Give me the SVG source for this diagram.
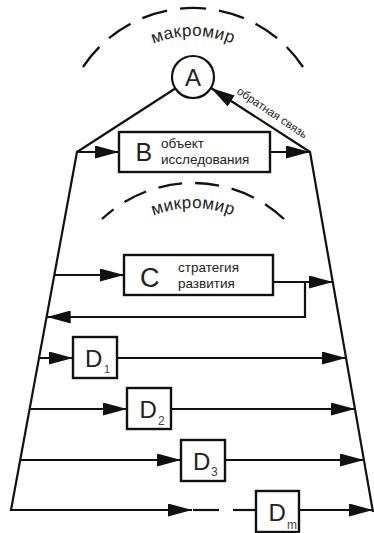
<svg xmlns="http://www.w3.org/2000/svg" width="374" height="533" viewBox="0 0 374 533">
<style>
.ln{fill:none;stroke:#111;stroke-width:2.2}
.bx{fill:#fff;stroke:#111;stroke-width:2.4}
.arc{fill:none;stroke:#111;stroke-width:2.3}
.t{font-family:"Liberation Sans",Arial,sans-serif;fill:#222}
.big{font-size:25px}
.sm{font-size:13.5px}
.sub{font-size:12px;fill:#444}
</style>
<defs>
<marker id="ah" markerUnits="userSpaceOnUse" markerWidth="24" markerHeight="13" refX="24" refY="6.5" orient="auto">
<path d="M0,0 L24,6.5 L0,13 Z" fill="#111"/>
</marker>
<path id="macroPath" d="M102.9,88 A104,104 0 0 1 283.1,88"/>
<path id="microPath" d="M110.3,246.6 A108,108 0 0 1 275.7,246.6"/>
</defs>
<rect width="374" height="533" fill="#fff"/>
<g id="macromir">
<path class="arc" d="M83,67 A132,132 0 0 1 303,67" stroke-dasharray="26 13"/>
<text class="t" style="font-size:17px;letter-spacing:0.4px"><textPath href="#macroPath" startOffset="50%" text-anchor="middle">макромир</textPath></text>
</g>
<g id="mikromir">
<path class="arc" d="M284,219 A133,133 0 0 0 102,219" stroke-dasharray="24 13"/>
<text class="t" style="font-size:17px;letter-spacing:0.4px"><textPath href="#microPath" startOffset="50%" text-anchor="middle">микромир</textPath></text>
</g>
<g id="connectors">
<path class="ln" d="M176,88 L77,152 L11,510 L192,510" marker-end="url(#ah)"/>
<path class="ln" d="M373,512 L310,152 L211,88" marker-end="url(#ah)"/>
<line class="ln" x1="77" y1="152" x2="119" y2="152" marker-end="url(#ah)"/>
<line class="ln" x1="270" y1="152" x2="310" y2="152" marker-end="url(#ah)"/>
<line class="ln" x1="54.4" y1="275" x2="124" y2="275" marker-end="url(#ah)"/>
<line class="ln" x1="273" y1="282" x2="333" y2="282" marker-end="url(#ah)"/>
<polyline class="ln" points="305,282 305,317 46.7,317" marker-end="url(#ah)"/>
<line class="ln" x1="39" y1="358" x2="73" y2="358" marker-end="url(#ah)"/>
<line class="ln" x1="117" y1="358" x2="346" y2="358" marker-end="url(#ah)"/>
<line class="ln" x1="29.8" y1="409" x2="127" y2="409" marker-end="url(#ah)"/>
<line class="ln" x1="171" y1="409" x2="355" y2="409" marker-end="url(#ah)"/>
<line class="ln" x1="20.4" y1="460" x2="181" y2="460" marker-end="url(#ah)"/>
<line class="ln" x1="225" y1="460" x2="364" y2="460" marker-end="url(#ah)"/>
<line class="ln" x1="193" y1="510" x2="219" y2="510"/>
<line class="ln" x1="233" y1="510" x2="256" y2="510"/>
<line class="ln" x1="299" y1="510" x2="373" y2="510" marker-end="url(#ah)"/>
<text class="t" style="font-size:11.5px" transform="translate(236,93) rotate(34)">обратная связь</text>
</g>
<g id="A">
<circle cx="193" cy="77" r="21" fill="#fff" stroke="#111" stroke-width="2.2"/>
<text class="t" x="193" y="85.5" text-anchor="middle" style="font-size:24px">A</text>
</g>
<g id="B">
<rect class="bx" x="119" y="132" width="151" height="40"/>
<text class="t big" x="135.5" y="161">B</text>
<text class="t sm" x="161" y="148">объект</text>
<text class="t sm" x="161" y="164">исследования</text>
</g>
<g id="C">
<rect class="bx" x="124" y="255" width="149" height="40"/>
<text class="t" x="140" y="286.5" style="font-size:27px">C</text>
<text class="t sm" x="178" y="272">стратегия</text>
<text class="t sm" x="178" y="287.5">развития</text>
</g>
<g id="D1">
<rect class="bx" x="73" y="337" width="44" height="41"/>
<text class="t" x="85" y="367" style="font-size:24px">D</text>
<text class="t sub" x="104" y="373" style="font-size:11px">1</text>
</g>
<g id="D2">
<rect class="bx" x="127" y="388" width="44" height="41"/>
<text class="t" x="139.5" y="418" style="font-size:24px">D</text>
<text class="t sub" x="158" y="425">2</text>
</g>
<g id="D3">
<rect class="bx" x="181" y="440" width="44" height="41"/>
<text class="t" x="193" y="470" style="font-size:24px">D</text>
<text class="t sub" x="211" y="476">3</text>
</g>
<g id="Dm">
<rect class="bx" x="256" y="491" width="43" height="41"/>
<text class="t" x="268.5" y="521" style="font-size:24px">D</text>
<text class="t sub" x="287" y="529">m</text>
</g>
</svg>
